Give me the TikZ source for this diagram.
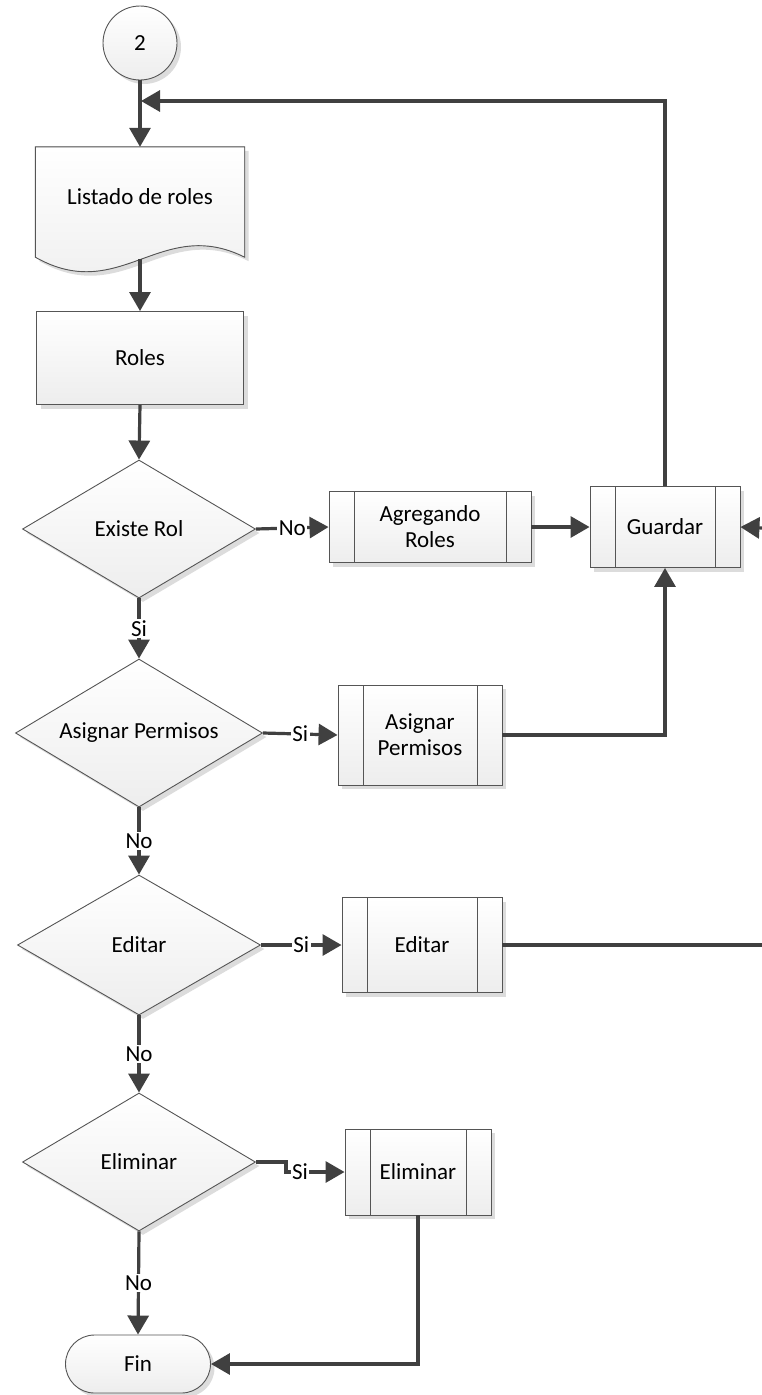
\documentclass[tikz,border=0pt]{standalone}
\usepackage{fontspec}
\setmainfont{Carlito}
\usetikzlibrary{shapes.geometric,shapes.misc,arrows.meta,shadows,backgrounds}

\definecolor{linea}{HTML}{404040}
\definecolor{borde}{HTML}{555555}
\definecolor{sombra}{HTML}{DCDCDC}

\tikzset{
  base/.style={draw=borde, line width=0.9pt, top color=white, bottom color=gray!14,
    drop shadow={shadow xshift=4pt, shadow yshift=-4pt, fill=sombra, opacity=1},
    font=\fontsize{23}{26}\selectfont, align=center, inner sep=0pt},
  conector/.style={base, circle, minimum size=74pt},
  proceso/.style={base, rectangle},
  subproc/.style={base, rectangle,
    path picture={\draw[borde, line width=0.9pt]
      ([xshift=25pt]path picture bounding box.north west) -- ([xshift=25pt]path picture bounding box.south west)
      ([xshift=-25pt]path picture bounding box.north east) -- ([xshift=-25pt]path picture bounding box.south east);}},
  decision/.style={base, diamond, aspect=2},
  terminal/.style={base, rounded rectangle, minimum width=145pt, minimum height=58pt},
  flecha/.style={draw=linea, line width=3.2pt, -{Triangle[length=19pt,width=21pt]}},
  linea/.style={draw=linea, line width=3.2pt},
  lbl/.style={fill=white, inner sep=1.5pt, font=\fontsize{23}{26}\selectfont}
}

\begin{document}
\begin{tikzpicture}[x=1pt,y=-1pt]
  \useasboundingbox (0,0) rectangle (762,1395);

  % nodos
  \node[conector] (inicio) at (140,43) {2};
  \node[font=\fontsize{23}{26}\selectfont, minimum width=209pt, minimum height=100pt, inner sep=0pt] (lista) at (140,197) {Listado de roles};
  \node[proceso, minimum width=207pt, minimum height=93pt] (roles) at (140,358) {Roles};

  \node[decision, minimum width=233pt, minimum height=138pt] (rol)     at (139,529)  {Existe Rol};
  \node[decision, minimum width=247pt, minimum height=148pt] (permdec) at (139,733)  {Asignar Permisos};
  \node[decision, minimum width=243pt, minimum height=140pt] (editdec) at (139,945)  {Editar};
  \node[decision, minimum width=233pt, minimum height=138pt] (elimdec) at (139,1162) {Eliminar};

  \node[subproc, minimum width=202pt, minimum height=71pt]  (agregar) at (430,527)  {Agregando\\Roles};
  \node[subproc, minimum width=150pt, minimum height=81pt]  (guardar) at (665,527)  {Guardar};
  \node[subproc, minimum width=164pt, minimum height=100pt] (permbox) at (420,735)  {Asignar\\Permisos};
  \node[subproc, minimum width=160pt, minimum height=95pt]  (editbox) at (422,945)  {Editar};
  \node[subproc, minimum width=146pt, minimum height=86pt]  (elimbox) at (418,1172) {Eliminar};

  \node[terminal] (fin) at (138,1364) {Fin};

  \coordinate (union) at (141,101);
  \coordinate (derE) at (762,945);
  \coordinate (derG) at (762,528);

  % documento con borde ondulado
  \begin{scope}[on background layer]
    \filldraw[draw=borde, line width=0.9pt, top color=white, bottom color=gray!14,
      drop shadow={shadow xshift=4pt, shadow yshift=-4pt, fill=sombra, opacity=1}]
      (lista.north west) -- (lista.north east) -- ([yshift=-10pt]lista.south east)
      .. controls +(-84,-42) and +(85,48) .. ([yshift=-10pt]lista.south west) -- cycle;
  \end{scope}

  % flujo
  \draw[flecha] (inicio.south) -- (lista.north);
  \draw[flecha] ([yshift=-12pt]lista.south) -- (roles.north);
  \draw[flecha] (roles.south) -- (rol.north);
  \draw[flecha] (guardar.north) |- (union);

  \path (rol.east)     edge[flecha] node[lbl] {No} (agregar.west);
  \path (agregar.east) edge[flecha] (guardar.west);
  \path (rol.south)    edge[flecha] node[lbl] {Si} (permdec.north);

  \path (permdec.east)  edge[flecha] node[lbl] {Si} (permbox.west);
  \draw[flecha] (permbox.east) -| (guardar.south);
  \path (permdec.south) edge[flecha] node[lbl] {No} (editdec.north);

  \path (editdec.east)  edge[flecha] node[lbl] {Si} (editbox.west);
  \draw[linea] (editbox.east) -- (derE);
  \draw[flecha] (derG) -- (guardar.east);
  \path (editdec.south) edge[flecha] node[lbl] {No} (elimdec.north);

  \draw[flecha] (elimdec.east) -- ++(30,0) |- node[lbl, pos=0.62] {Si} (elimbox.west);
  \path (elimdec.south) edge[flecha] node[lbl] {No} (fin.north);
  \draw[flecha] (elimbox.south) |- (fin.east);

\end{tikzpicture}
\end{document}
